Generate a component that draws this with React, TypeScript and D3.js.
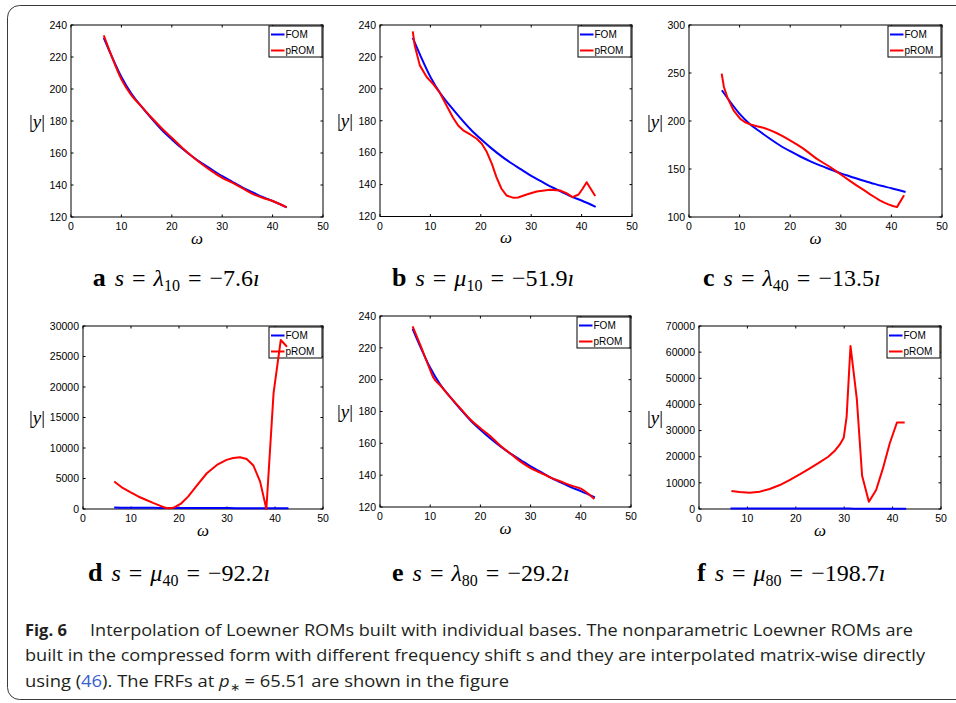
import React from 'react';
import * as d3 from 'd3';

// ---------- data ----------
const xTicks = [0, 10, 20, 30, 40, 50];
const yTicksA = [120, 140, 160, 180, 200, 220, 240];
const yTicksC = [100, 150, 200, 250, 300];
const yTicksD = [0, 5000, 10000, 15000, 20000, 25000, 30000];
const yTicksF = [0, 10000, 20000, 30000, 40000, 50000, 60000, 70000];

const omegaFOM = [6.5, 8, 10, 12, 14, 16, 18, 20, 22, 24, 26, 28, 30, 32, 34, 36, 38, 40, 42.8];
const yFOM = [232, 221, 207.5, 197, 189, 181.5, 174.5, 168.5, 163, 158, 153.5, 149.5, 145.5, 142, 138.5, 135.5, 132.5, 130, 126];

const omegaA = [6.5, 8, 10, 12, 14, 16, 18, 20, 22, 24, 26, 28, 30, 32, 34, 36, 38, 40, 42.8];
const promA = [233.5, 221, 206, 196, 189, 182, 175.5, 169.5, 163.5, 158, 153, 148.5, 144.5, 141.5, 138, 134.5, 132, 130, 126];

const omegaB = [6.5, 6.9, 7.9, 9.26, 10.6, 11.9, 13.2, 14.5, 15.5, 16.5, 17.9, 19.2, 20.2, 21.2, 22.2, 23.1, 24.1, 25.1, 26.5, 27.4, 29.1, 31.1, 33.7, 35.7, 37, 38.2, 39.4, 40.2, 41, 42.7];
const promB = [236, 227, 214.7, 207.4, 202.8, 197.4, 189.6, 181.9, 177, 174, 171.4, 168.7, 165.6, 160.4, 153, 144.7, 137.4, 133.2, 131.7, 131.9, 133.8, 135.7, 136.7, 136.3, 134.6, 132.1, 133.8, 137.4, 141.5, 132.8];

const omegaC = [6.46, 6.9, 7.6, 8.8, 10.1, 11, 12.1, 13.4, 14.7, 16, 17.3, 18.6, 19.96, 21.3, 22.6, 23.9, 25.2, 26.5, 27.9, 29.2, 30.5, 31.8, 33.1, 34.5, 35.8, 36.8, 37.7, 38.6, 39.4, 40.3, 41.1, 42.5];
const promC = [249.3, 235.4, 224.3, 211, 202.4, 199, 196.5, 194.5, 193, 190.5, 187.5, 184, 179.9, 175.7, 171.2, 166, 160.8, 156.5, 152.1, 147.2, 142.4, 137.7, 133, 128.2, 123.6, 120.3, 117.4, 115, 113.2, 111.5, 110.3, 122.6];

const omegaD = [6.5, 8, 9.75, 11.5, 13.2, 14.6, 16, 17, 17.8, 18.5, 19.2, 20.5, 21.9, 23.7, 25.8, 27.9, 29.9, 31.3, 32.7, 34.1, 35.5, 36.9, 38.2, 39.7, 41.2, 42.5];
const promD = [4500, 3600, 2800, 2050, 1480, 1000, 550, 250, 110, 150, 330, 930, 2030, 3830, 5860, 7230, 8050, 8350, 8490, 8210, 7120, 4490, 0, 19000, 27700, 26600];

const omegaE = [6.5, 8, 10, 10.6, 12, 14, 16, 18, 20, 22, 24, 26, 28, 30, 32, 34, 36, 38, 40, 42.7];
const promE = [233.5, 222, 206, 201.5, 196.5, 189, 182, 175, 169.5, 164.5, 158.5, 153.5, 148.5, 144.5, 141.5, 138.5, 136, 133.5, 131.5, 125];

const omegaF = [6.7, 8.4, 10.5, 12.5, 14.6, 16.7, 18.7, 20.8, 22.9, 24.9, 26.7, 28, 29.1, 29.9, 30.5, 31.3, 32.6, 33.7, 35.1, 36.6, 38, 39.4, 40.9, 42.5];
const promF = [6870, 6490, 6240, 6620, 7640, 9160, 11070, 13240, 15530, 17820, 19980, 22150, 24700, 27240, 35250, 62360, 42250, 12730, 2800, 7250, 15530, 25070, 33090, 33090];

const seriesNames = ['FOM', 'pROM'];
const subLetters = ['a', 'b', 'c', 'd', 'e', 'f'];
const subSymbols = ['λ', 'μ', 'λ', 'μ', 'λ', 'μ'];
const subIndices = ['10', '10', '40', '40', '80', '80'];
const subValues = ['−7.6', '−51.9', '−13.5', '−92.2', '−29.2', '−198.7'];

// ---------- layout (not data) ----------
const boxes = [
  { L: 71, R: 323, T: 25, B: 217, yl: 37, cx: 92.7, cy: 285.7 },
  { L: 380, R: 632, T: 25, B: 216.5, yl: 345, cx: 392, cy: 285.7 },
  { L: 689, R: 942, T: 25, B: 217, yl: 655, cx: 703, cy: 285.7 },
  { L: 83, R: 323, T: 326, B: 509, yl: 37, cx: 88, cy: 580.5 },
  { L: 380, R: 631, T: 316, B: 507, yl: 345, cx: 392, cy: 580.5 },
  { L: 699, R: 941, T: 326, B: 509, yl: 655, cx: 697, cy: 580.5 },
];

const panelData = [
  { omega: omegaA, prom: promA, yDom: [120, 240], yTicks: yTicksA, smooth: true },
  { omega: omegaB, prom: promB, yDom: [120, 240], yTicks: yTicksA, smooth: false },
  { omega: omegaC, prom: promC, yDom: [100, 300], yTicks: yTicksC, smooth: false },
  { omega: omegaD, prom: promD, yDom: [0, 30000], yTicks: yTicksD, smooth: false },
  { omega: omegaE, prom: promE, yDom: [120, 240], yTicks: yTicksA, smooth: true },
  { omega: omegaF, prom: promF, yDom: [0, 70000], yTicks: yTicksF, smooth: false },
];

const SANS = "Liberation Sans, Arial, Helvetica, sans-serif";
const SERIF = "Liberation Serif, DejaVu Serif, serif";
const BLUE = '#0000ff';
const RED = '#ff0000';

function Panel({ i }: { i: number }) {
  const b = boxes[i];
  const p = panelData[i];
  const x = d3.scaleLinear().domain([0, 50]).range([b.L, b.R]);
  const y = d3.scaleLinear().domain(p.yDom as [number, number]).range([b.B, b.T]);
  const fomPts: [number, number][] = omegaFOM.map((w, k) => [w, yFOM[k]]);
  const promPts: [number, number][] = p.omega.map((w, k) => [w, p.prom[k]]);
  const lineSmooth = d3.line<[number, number]>().x(d => x(d[0])).y(d => y(d[1])).curve(d3.curveMonotoneX);
  const lineLin = d3.line<[number, number]>().x(d => x(d[0])).y(d => y(d[1]));
  const tl = 2.5;
  const fmt = d3.format('d');
  const lgW = 53, lgH = 31;
  const lgL = b.R - lgW - 1, lgT = b.T + 1;
  return (
    <g>
      {xTicks.map(t => (
        <g key={'x' + t}>
          <line x1={x(t)} x2={x(t)} y1={b.B} y2={b.B - tl} stroke="#000" />
          <line x1={x(t)} x2={x(t)} y1={b.T} y2={b.T + tl} stroke="#000" />
          <text x={x(t)} y={b.B + 13} textAnchor="middle" fontFamily={SANS} fontSize={10.5}>{fmt(t)}</text>
        </g>
      ))}
      {p.yTicks.map(t => (
        <g key={'y' + t}>
          <line x1={b.L} x2={b.L + tl} y1={y(t)} y2={y(t)} stroke="#000" />
          <line x1={b.R} x2={b.R - tl} y1={y(t)} y2={y(t)} stroke="#000" />
          <text x={b.L - 4} y={y(t)} dy="0.36em" textAnchor="end" fontFamily={SANS} fontSize={10.5}>{fmt(t)}</text>
        </g>
      ))}
      <rect x={b.L} y={b.T} width={b.R - b.L} height={b.B - b.T} fill="none" stroke="#000" strokeWidth={1} />
      <rect x={lgL} y={lgT} width={lgW} height={lgH} fill="#fff" stroke="#000" strokeWidth={1} />
      {seriesNames.map((n, k) => (
        <g key={n}>
          <line x1={lgL + 2} x2={lgL + 15.5} y1={lgT + 8.5 + k * 16} y2={lgT + 8.5 + k * 16} stroke={k === 0 ? BLUE : RED} strokeWidth={2} />
          <text x={lgL + 16.5} y={lgT + 8.5 + k * 16} dy="0.36em" fontFamily={SANS} fontSize={10}>{n}</text>
        </g>
      ))}
      <path d={lineSmooth(fomPts) || ''} fill="none" stroke={BLUE} strokeWidth={2} />
      <path d={(p.smooth ? lineSmooth : lineLin)(promPts) || ''} fill="none" stroke={RED} strokeWidth={2} strokeLinejoin="round" />
      <text x={b.yl} y={(b.T + b.B) / 2} dy="0.35em" textAnchor="middle" fontFamily={SERIF} fontSize={19}>
        <tspan>|</tspan><tspan fontStyle="italic">y</tspan><tspan>|</tspan>
      </text>
      <text x={(b.L + b.R) / 2} y={b.B + 26.5} textAnchor="middle" fontFamily={SERIF} fontSize={17} fontStyle="italic">ω</text>
      <text x={b.cx} y={b.cy} fontFamily={SERIF} fontSize={24} fill="#000">
        <tspan fontWeight="bold" fontSize={26}>{subLetters[i]}</tspan>
        <tspan dx={9} fontStyle="italic">s</tspan>
        <tspan dx={8}>=</tspan>
        <tspan dx={8} fontStyle="italic">{subSymbols[i]}</tspan>
        <tspan fontSize={16} dy={5}>{subIndices[i]}</tspan>
        <tspan dy={-5} dx={8}>=</tspan>
        <tspan dx={8}>{subValues[i]}</tspan>
        <tspan fontStyle="italic">ı</tspan>
      </text>
    </g>
  );
}

const CAPF = "Open Sans, Noto Sans, sans-serif";

export default function App() {
  return (
    <svg width={956} height={703} style={{ position: 'absolute', left: 0, top: 0, background: '#fff' }}>
      <rect x={0} y={0} width={956} height={703} fill="#fff" />
      <rect x={7.5} y={5.5} width={1000} height={694} rx={12} fill="none" stroke="#3a3a3a" strokeWidth={1} />
      {boxes.map((_, i) => <Panel key={i} i={i} />)}
      <text x={25} y={635.5} fontFamily={CAPF} fontSize={16.5} fontWeight="bold" fill="#231f20">Fig. 6</text>
      <text x={90} y={635.5} fontFamily={CAPF} fontSize={16.5} fill="#231f20" textLength={823} lengthAdjust="spacingAndGlyphs">Interpolation of Loewner ROMs built with individual bases. The nonparametric Loewner ROMs are</text>
      <text x={25} y={661} fontFamily={CAPF} fontSize={16.5} fill="#231f20" textLength={900} lengthAdjust="spacingAndGlyphs">built in the compressed form with different frequency shift s and they are interpolated matrix-wise directly</text>
      <text x={25} y={686.5} fontFamily={CAPF} fontSize={16.5} fill="#231f20" textLength={484} lengthAdjust="spacingAndGlyphs">
        <tspan>using (</tspan><tspan fill="#3a5fcd">46</tspan><tspan>). The FRFs at </tspan><tspan fontStyle="italic">p</tspan><tspan fontSize={11} dy={4}>∗</tspan><tspan dy={-4}> = 65.51 are shown in the figure</tspan>
      </text>
    </svg>
  );
}
